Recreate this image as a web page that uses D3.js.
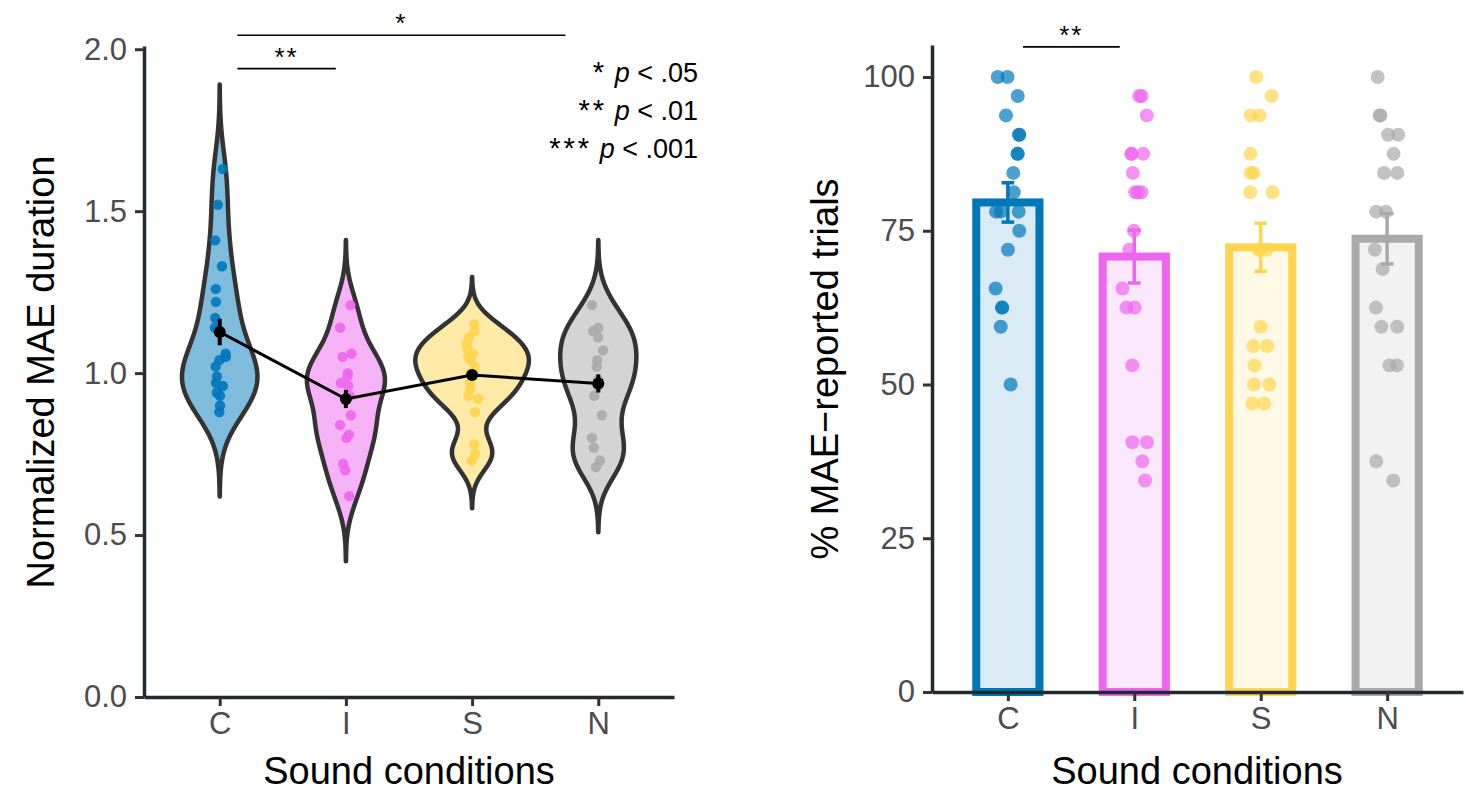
<!DOCTYPE html>
<html>
<head>
<meta charset="utf-8">
<script src="https://cdn.jsdelivr.net/npm/d3@7"></script>
<style>
body{margin:0;background:#fff;}
text{font-family:"Liberation Sans",Arial,sans-serif;}
</style>
</head>
<body>
<div id="canvas"></div>
<script>
// sound conditions and their colours
var conditions = ['C','I','S','N'];
var colors = ['#0077BB','#EE66EE','#FFD54F','#AAAAAA'];

// left panel: normalized MAE duration, one value per participant
var maeC = [1.63,1.52,1.41,1.33,1.26,1.22,1.17,1.14,1.06,1.05,1.04,1.02,0.99,0.97,0.96,0.94,0.93,0.90,0.88];
var maeI = [1.21,1.14,1.06,1.05,1.00,0.99,0.97,0.96,0.93,0.87,0.84,0.81,0.80,0.72,0.70,0.62];
var maeS = [1.15,1.13,1.11,1.09,1.07,1.06,1.05,1.04,1.02,1.00,0.99,0.97,0.95,0.93,0.92,0.88,0.78,0.75,0.73];
var maeN = [1.21,1.14,1.13,1.11,1.07,1.04,1.02,0.98,0.96,0.93,0.87,0.80,0.77,0.73,0.71];
var maeMean = [1.127,0.920,0.994,0.968];
var maeSE = [0.041,0.028,0.012,0.028];
var maeBandwidth = [0.087,0.067,0.049,0.067];

// right panel: % of trials with MAE reported
var pctC = [100,100,96.9,93.75,90.6,90.6,87.5,87.5,84.4,81.25,78.1,78.1,78.1,75,71.9,65.6,62.5,62.5,59.4,50];
var pctI = [96.9,96.9,93.75,87.5,87.5,87.5,84.4,81.25,81.25,81.25,75,71.9,65.6,62.5,62.5,53.1,40.6,40.6,37.5,34.4];
var pctS = [100,96.9,93.75,93.75,87.5,84.4,84.4,81.25,81.25,71.9,71.9,71.9,59.4,56.25,56.25,53.1,50,50,46.9,46.9];
var pctN = [100,93.75,93.75,90.6,90.6,87.5,84.4,84.4,78.1,78.1,71.9,68.75,62.5,59.4,59.4,53.1,53.1,37.5,34.4];
var pctMean = [79.6,70.8,72.3,73.7];
var pctSE = [3.2,4.3,3.9,4.1];

var leftTicks = [0,0.5,1,1.5,2];
var rightTicks = [0,25,50,75,100];

// significance brackets (x in condition units, 1 = C)
var leftSig = [{a:1.14,b:1.92,y:1.94,label:'**'},{a:1.14,b:3.74,y:2.043,label:'*'}];
var rightSig = [{a:1.12,b:1.885,y:104.9,label:'**'}];
var legendStars = ['*','**','***'];
var legendLevels = ['< .05','< .01','< .001'];

var maeGroups = [maeC,maeI,maeS,maeN];
var pctGroups = [pctC,pctI,pctS,pctN];

var W = 1466, H = 794;
var svg = d3.select('#canvas').append('svg')
    .attr('width',W).attr('height',H);

var axisColor = '#1f2a31';

function styleAxis(g){
    g.select('.domain').attr('stroke',axisColor).attr('stroke-width',3.5);
    g.selectAll('.tick line').attr('stroke','#333').attr('stroke-width',3);
    g.selectAll('.tick text').attr('fill','#4d4d4d').style('font-size','31px');
}

function sigBrackets(xs,ys,list){
    var x0 = xs(conditions[0]), st = xs.step();
    list.forEach(function(s){
        svg.append('line')
            .attr('x1',x0+(s.a-1)*st).attr('x2',x0+(s.b-1)*st)
            .attr('y1',ys(s.y)).attr('y2',ys(s.y))
            .attr('stroke','#000').attr('stroke-width',1.6);
        svg.append('text')
            .attr('x',x0+((s.a+s.b)/2-1)*st).attr('y',ys(s.y)-3)
            .attr('text-anchor','middle')
            .style('font-size','26px').style('letter-spacing','2px')
            .text(s.label);
    });
}

// ---------- left panel: violins ----------
var xL = d3.scalePoint().domain(conditions).range([144,674]).padding(0.6);
var yL = d3.scaleLinear().domain([0,2.01]).range([697,46]);

function gauss(u){ return Math.exp(-0.5*u*u)/Math.sqrt(2*Math.PI); }

var dens = maeGroups.map(function(vals,i){
    var bw = maeBandwidth[i];
    var lo = d3.min(vals)-3*bw, hi = d3.max(vals)+3*bw;
    var pts = [];
    for(var k=0;k<=256;k++){
        var y = lo+(hi-lo)*k/256;
        var d = d3.mean(vals,function(v){ return gauss((y-v)/bw)/bw; });
        pts.push([y,d]);
    }
    return pts;
});
var maxD = d3.max(dens,function(p){ return d3.max(p,function(q){ return q[1]; }); });
var halfW = 0.45*xL.step();

dens.forEach(function(pts,i){
    var cx = xL(conditions[i]);
    var area = d3.area()
        .y(function(d){ return yL(d[0]); })
        .x0(function(d){ return cx-d[1]/maxD*halfW; })
        .x1(function(d){ return cx+d[1]/maxD*halfW; })
        .curve(d3.curveBasis);
    svg.append('path')
        .datum(pts)
        .attr('d',area)
        .attr('fill',colors[i]).attr('fill-opacity',0.5)
        .attr('stroke','#333').attr('stroke-width',4.5)
        .attr('stroke-linejoin','round');
});

var rngL = d3.randomUniform.source(d3.randomLcg(0.42))(-0.05,0.05);
maeGroups.forEach(function(vals,i){
    vals.forEach(function(v){
        svg.append('circle')
            .attr('cx',xL(conditions[i])+rngL()*xL.step())
            .attr('cy',yL(v))
            .attr('r',5.2)
            .attr('fill',colors[i]).attr('fill-opacity',0.9);
    });
});

// mean line with SE
var meanLine = d3.line()
    .x(function(d,i){ return xL(conditions[i]); })
    .y(function(d){ return yL(d); });
svg.append('path').datum(maeMean).attr('d',meanLine)
    .attr('fill','none').attr('stroke','#000').attr('stroke-width',3);
maeMean.forEach(function(m,i){
    var cx = xL(conditions[i]);
    svg.append('line').attr('x1',cx).attr('x2',cx)
        .attr('y1',yL(m-maeSE[i])).attr('y2',yL(m+maeSE[i]))
        .attr('stroke','#000').attr('stroke-width',4);
    svg.append('circle').attr('cx',cx).attr('cy',yL(m)).attr('r',6).attr('fill','#000');
});

svg.append('g').attr('transform','translate(144,0)')
    .call(d3.axisLeft(yL).tickValues(leftTicks).tickFormat(d3.format('.1f')).tickSize(9).tickSizeOuter(0).tickPadding(8))
    .call(styleAxis);
svg.append('g').attr('transform','translate(0,697)')
    .call(d3.axisBottom(xL).tickSize(9).tickSizeOuter(0).tickPadding(6))
    .call(styleAxis);

svg.append('text').attr('x',409).attr('y',784).attr('text-anchor','middle')
    .style('font-size','38px').text('Sound conditions');
svg.append('text').attr('transform','translate(54,372) rotate(-90)').attr('text-anchor','middle')
    .style('font-size','38px').text('Normalized MAE duration');

sigBrackets(xL,yL,leftSig);

legendStars.forEach(function(s,i){
    var t = svg.append('text').attr('x',698).attr('y',82+i*38)
        .attr('text-anchor','end').style('font-size','27px');
    t.append('tspan').style('font-size','29px').style('letter-spacing','3px').text(s);
    t.append('tspan').text(' ');
    t.append('tspan').style('font-style','italic').text('p');
    t.append('tspan').text(' '+legendLevels[i]);
});

// ---------- right panel: bars ----------
var xR = d3.scalePoint().domain(conditions).range([932,1463]).padding(0.6);
var yR = d3.scaleLinear().domain([0,105.2]).range([692,45]);
var bw = 0.5*xR.step();

pctMean.forEach(function(m,i){
    var cx = xR(conditions[i]);
    svg.append('rect')
        .attr('x',cx-bw/2).attr('width',bw)
        .attr('y',yR(m)).attr('height',yR(0)-yR(m))
        .attr('fill',colors[i]).attr('fill-opacity',0.15)
        .attr('stroke',colors[i]).attr('stroke-width',8);
});
pctMean.forEach(function(m,i){
    var cx = xR(conditions[i]), cap = 0.05*xR.step();
    var g = svg.append('g').attr('stroke',colors[i]).attr('stroke-width',3.5);
    g.append('line').attr('x1',cx).attr('x2',cx).attr('y1',yR(m-pctSE[i])).attr('y2',yR(m+pctSE[i]));
    g.append('line').attr('x1',cx-cap).attr('x2',cx+cap).attr('y1',yR(m-pctSE[i])).attr('y2',yR(m-pctSE[i]));
    g.append('line').attr('x1',cx-cap).attr('x2',cx+cap).attr('y1',yR(m+pctSE[i])).attr('y2',yR(m+pctSE[i]));
});

var rngR = d3.randomUniform.source(d3.randomLcg(0.17))(-0.1,0.1);
pctGroups.forEach(function(vals,i){
    vals.forEach(function(v){
        svg.append('circle')
            .attr('cx',xR(conditions[i])+rngR()*xR.step())
            .attr('cy',yR(v))
            .attr('r',7)
            .attr('fill',colors[i]).attr('fill-opacity',0.7);
    });
});

svg.append('g').attr('transform','translate(932,0)')
    .call(d3.axisLeft(yR).tickValues(rightTicks).tickSize(9).tickSizeOuter(0).tickPadding(8))
    .call(styleAxis);
svg.append('g').attr('transform','translate(0,692)')
    .call(d3.axisBottom(xR).tickSize(9).tickSizeOuter(0).tickPadding(6))
    .call(styleAxis);

svg.append('text').attr('x',1197).attr('y',784).attr('text-anchor','middle')
    .style('font-size','38px').text('Sound conditions');
svg.append('text').attr('transform','translate(838,369) rotate(-90)').attr('text-anchor','middle')
    .style('font-size','38px').text('% MAE\u2212reported trials');

sigBrackets(xR,yR,rightSig);
</script>
</body>
</html>
